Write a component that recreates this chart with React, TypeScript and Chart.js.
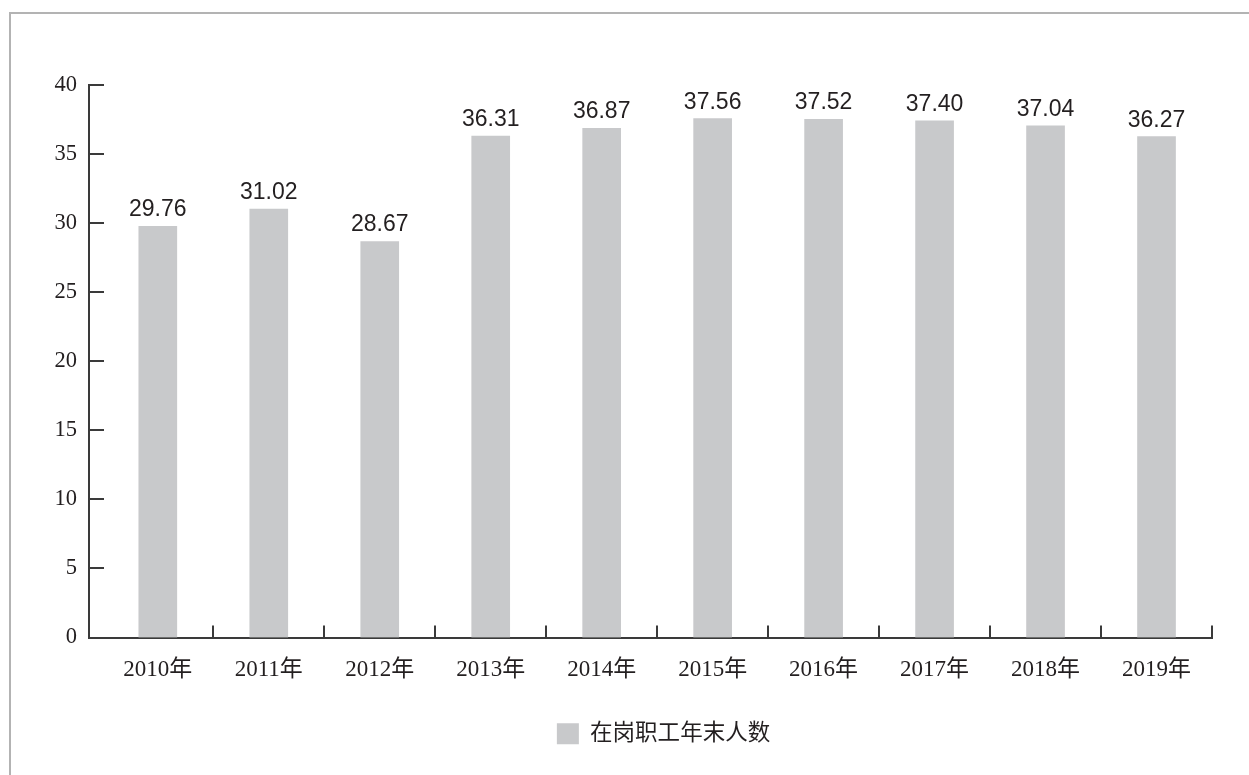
import React, { useEffect, useRef } from "react";
import { Chart, registerables } from "chart.js";

Chart.register(...registerables);

const categories = ["2010年", "2011年", "2012年", "2013年", "2014年", "2015年", "2016年", "2017年", "2018年", "2019年"];
const values = [29.76, 31.02, 28.67, 36.31, 36.87, 37.56, 37.52, 37.4, 37.04, 36.27];
const seriesName = "在岗职工年末人数";
const yTickValues = [0, 5, 10, 15, 20, 25, 30, 35, 40];

const SERIF = '"Liberation Serif", "Times New Roman", "Noto Sans CJK SC", serif';
const SANS = '"Liberation Sans", Arial, "DejaVu Sans", sans-serif';
const AXIS_COLOR = "#3a3a3a";
const TEXT_COLOR = "#231f20";

export default function App() {
  const ref = useRef<HTMLCanvasElement>(null);

  useEffect(() => {
    const canvas = ref.current;
    if (!canvas) return;

    const inwardTicks = {
      id: "inwardTicks",
      afterDraw(chart: any) {
        const { ctx, chartArea } = chart;
        const xs = chart.scales.x;
        const ys = chart.scales.y;
        ctx.save();
        ctx.strokeStyle = AXIS_COLOR;
        ctx.lineWidth = 2;
        ctx.beginPath();
        yTickValues.forEach((v) => {
          const py = Math.round(ys.getPixelForValue(v));
          ctx.moveTo(chartArea.left, py);
          ctx.lineTo(chartArea.left + 15, py);
        });
        categories.forEach((_, i) => {
          const px = Math.round(xs.getPixelForValue(i + 0.5));
          ctx.moveTo(px, chartArea.bottom);
          ctx.lineTo(px, chartArea.bottom - 12);
        });
        ctx.stroke();
        ctx.restore();
      },
    };

    const valueLabels = {
      id: "valueLabels",
      afterDatasetsDraw(chart: any) {
        const { ctx } = chart;
        const meta = chart.getDatasetMeta(0);
        ctx.save();
        ctx.fillStyle = TEXT_COLOR;
        ctx.font = `23px ${SANS}`;
        ctx.textAlign = "center";
        ctx.textBaseline = "alphabetic";
        meta.data.forEach((bar: any, i: number) => {
          ctx.fillText(values[i].toFixed(2), bar.x, bar.y - 10);
        });
        ctx.restore();
      },
    };

    const legendShift = {
      id: "legendShift",
      afterLayout(chart: any) {
        const l = chart.legend;
        if (l) {
          l.left += 13;
          l.right += 13;
        }
      },
    };

    const chart = new Chart(canvas, {
      type: "bar",
      data: {
        datasets: [
          {
            label: seriesName,
            data: values.map((v, i) => ({ x: i, y: v })),
            backgroundColor: "#c8c9cb",
            borderWidth: 0,
            barThickness: 38,
          },
        ],
      },
      options: {
        animation: false,
        responsive: false,
        layout: { padding: { top: 85, right: 37, bottom: 20, left: 0 } },
        scales: {
          x: {
            type: "linear",
            offset: false,
            bounds: "data",
            min: -0.62,
            max: 9.5,
            grid: { display: false, drawTicks: false, offset: false },
            border: { display: true, color: AXIS_COLOR, width: 2 },
            afterBuildTicks: (s: any) => {
              s.ticks = categories.map((_, i) => ({ value: i }));
            },
            afterFit: (s: any) => {
              s.height = 75;
            },
            ticks: {
              autoSkip: false,
              maxRotation: 0,
              minRotation: 0,
              padding: 19,
              color: TEXT_COLOR,
              font: { family: SERIF, size: 23 },
              callback: (v: any) => categories[Math.round(Number(v))],
            },
          },
          y: {
            min: 0,
            max: 40,
            grid: { display: false, drawTicks: false },
            border: { display: true, color: AXIS_COLOR, width: 2 },
            afterBuildTicks: (s: any) => {
              s.ticks = yTickValues.map((v) => ({ value: v }));
            },
            afterFit: (s: any) => {
              s.width = 89;
            },
            ticks: {
              padding: 12,
              color: TEXT_COLOR,
              font: { family: SERIF, size: 22.5 },
              callback: (v: any) => String(v),
            },
          },
        },
        plugins: {
          legend: {
            position: "bottom",
            fullSize: false,
            labels: {
              boxWidth: 22,
              boxHeight: 21,
              padding: 10,
              color: TEXT_COLOR,
              font: { family: SERIF, size: 22.5 },
            },
          },
          tooltip: { enabled: false },
        },
      } as any,
      plugins: [inwardTicks, valueLabels, legendShift],
    });

    return () => chart.destroy();
  }, []);

  return (
    <div>
      <div
        style={{
          position: "fixed",
          left: 9,
          top: 12,
          right: 0,
          bottom: 0,
          borderTop: "2px solid #b3b3b3",
          borderLeft: "2px solid #b3b3b3",
          background: "#fff",
        }}
      />
      <canvas
        ref={ref}
        width={1249}
        height={775}
        style={{ position: "fixed", left: 0, top: 0, width: 1249, height: 775 }}
      />
    </div>
  );
}
